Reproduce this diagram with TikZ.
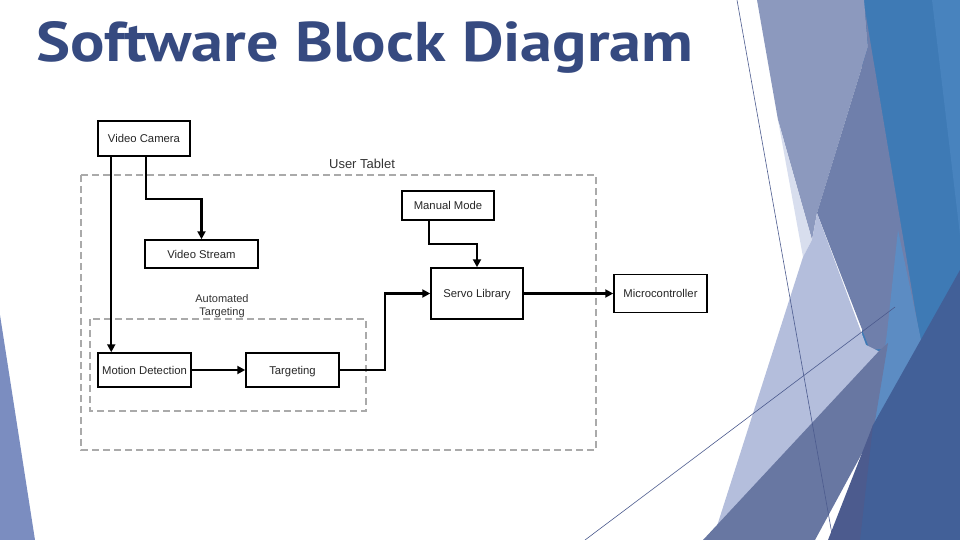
\documentclass[tikz,border=0pt]{standalone}
\usepackage{fontspec}
\setmainfont{Liberation Sans}
\newfontfamily\titlefont{PT Sans}
\usepackage{tikz}
\usetikzlibrary{arrows.meta}
\usepackage{xcolor}

\definecolor{titleblue}{RGB}{54,74,128}
\definecolor{facetblue}{RGB}{62,122,181}
\definecolor{facetblueb}{RGB}{72,131,190}
\definecolor{facetgray}{RGB}{140,153,190}
\definecolor{facetpale}{RGB}{216,222,238}
\definecolor{facetslate}{RGB}{111,127,171}
\definecolor{facetlav}{RGB}{180,190,220}
\definecolor{facetsky}{RGB}{92,140,195}
\definecolor{facetmid}{RGB}{104,119,162}
\definecolor{facetdark}{RGB}{66,96,152}
\definecolor{facetdeep}{RGB}{76,91,142}
\definecolor{facetleft}{RGB}{123,141,192}
\definecolor{boxgray}{RGB}{170,170,170}

\begin{document}
\begin{tikzpicture}[x=1pt,y=-1pt,>={Triangle[length=8pt,width=8pt]},line cap=butt,
  block/.style={draw=black,line width=1.5pt,fill=white,font=\fontsize{11.3}{13}\selectfont,
    text=black!85,inner sep=0pt,text height=8.1pt,text depth=0pt},
  conn/.style={line width=2.1pt,->},
  group/.style={draw=boxgray,line width=1.5pt,dash pattern=on 7pt off 4pt},
  grouplabel/.style={font=\fontsize{11}{13}\selectfont,text=black!80,align=center,inner sep=0pt}]
\useasboundingbox (0,0) rectangle (960,540);
% facet background
\fill[facetblue] (862,0) -- (960,0) -- (960,540) -- (862,540) -- cycle;
\fill[facetblueb] (932,0) -- (960,0) -- (960,235) -- cycle;
\fill[facetgray] (757,0) -- (864,0) -- (868,47) -- (817,213) -- (812,240) -- (778,120) -- cycle;
\fill[facetpale] (778,120) -- (812,240) -- (803,257) -- cycle;
\fill[facetslate] (865,10) -- (921,345) -- (870,350) -- (817,213) -- (868,47) -- cycle;
\fill[facetlav] (803,257) -- (812,240) -- (817,213) -- (866,345) -- (880,352) -- (717,526) -- cycle;
\fill[facetsky] (898,230) -- (921,340) -- (907,433) -- (873,433) -- (887,333) -- cycle;
\fill[facetmid] (703,540) -- (880,350) -- (888,343) -- (873,433) -- (815,540) -- cycle;
\fill[facetdark] (960,270) -- (960,540) -- (835,540) -- (873,425) -- cycle;
\fill[facetdeep] (873,425) -- (860,540) -- (828,540) -- cycle;
\fill[facetleft] (0,315) -- (35,540) -- (0,540) -- cycle;
\draw[facetdeep,line width=0.6pt] (737,0) -- (833,540);
\draw[facetdeep,line width=0.6pt] (585,540) -- (895,307);

% title
\node[anchor=base west,inner sep=0pt,text=titleblue] (title) at (36,62)
  {\resizebox{657pt}{40pt}{\titlefont\bfseries Software Block Diagram}};

% groups
\draw[group] (81,175) rectangle (596,450);
\node[grouplabel,font=\fontsize{13}{15}\selectfont] (tabletlbl) at (362,164) {User Tablet};
\draw[group] (90,319) rectangle (366,411);
\node[grouplabel] (autolbl) at (222,306) {Automated\\Targeting};

% blocks
\node[block,minimum width=92pt,minimum height=35pt] (cam) at (144,138.5) {Video Camera};
\node[block,minimum width=113pt,minimum height=28pt] (stream) at (201.5,254) {Video Stream};
\node[block,minimum width=92pt,minimum height=29pt] (manual) at (448,205.5) {Manual Mode};
\node[block,minimum width=92pt,minimum height=51pt] (servo) at (477,293.5) {Servo Library};
\node[block,minimum width=93pt,minimum height=38pt] (micro) at (660.5,293.5) {Microcontroller};
\node[block,minimum width=93pt,minimum height=34pt] (det) at (144.5,370) {Motion Detection};
\node[block,minimum width=93pt,minimum height=34pt] (tgt) at (292.5,370) {Targeting};

% connectors
\draw[conn] ([xshift=14pt]cam.south west) -- ([xshift=14pt]det.north west);
\draw[conn] ([xshift=49pt]cam.south west) -- ++(0,42) -| (stream.north);
\draw[conn] (det) -- (tgt);
\draw[conn] (tgt.east) -- ++(45,0) |- (servo.west);
\draw[conn] ([xshift=28pt]manual.south west) -- ++(0,23) -| (servo.north);
\draw[conn] (servo) -- (micro);
\end{tikzpicture}
\end{document}
